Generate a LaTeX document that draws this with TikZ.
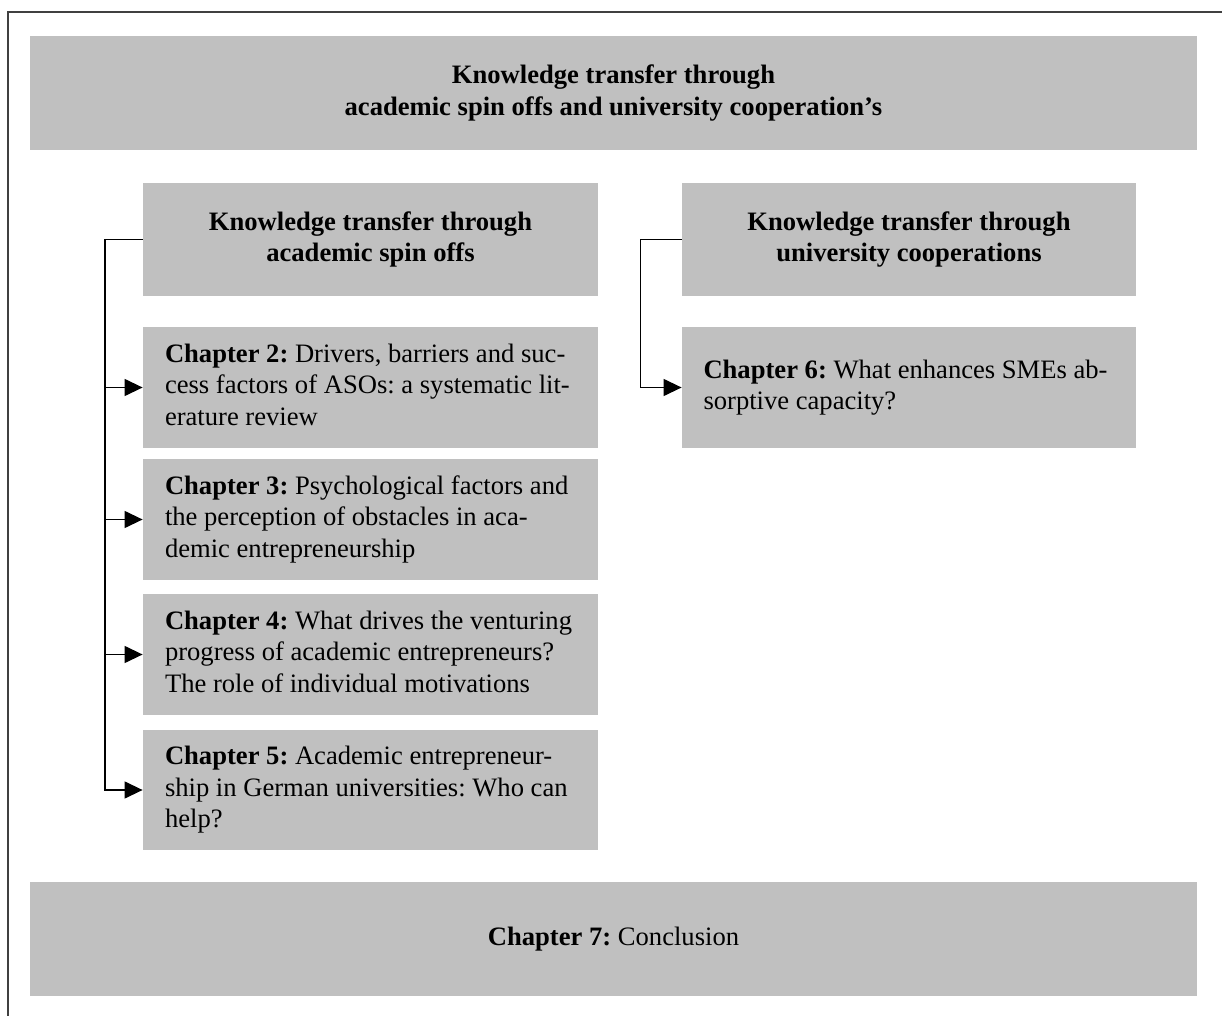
\documentclass[tikz,border=0pt]{standalone}
\usepackage{fontspec}
\setmainfont{Liberation Serif}
\usetikzlibrary{arrows.meta}
\definecolor{boxgray}{RGB}{192,192,192}
\frenchspacing
\newcommand{\chaptxt}[1]{\makebox[205.5pt][l]{\begin{tabular}{@{}l@{}}#1\end{tabular}}}
\begin{document}
\begin{tikzpicture}[x=0.5pt,y=-0.5pt,
  font=\fontsize{13.3}{15.8}\selectfont\frenchspacing,
  box/.style={fill=boxgray, draw=none, inner sep=0pt},
  head/.style={box, align=center, font=\fontsize{13.3}{15.8}\selectfont\bfseries\frenchspacing},
  conn/.style={line width=0.65pt, draw=black},
  arr/.style={conn, -{Triangle[length=9pt,width=8.5pt]}}]
\useasboundingbox (0,0) rectangle (1222,1016);
\draw[line width=1pt, draw=black!75] (1222,12) -- (8,12) -- (8,1016);
\node[head, minimum width=583.5pt, minimum height=57pt] (title) at (613.5,93)
  {Knowledge transfer through\\academic spin offs and university cooperation’s};
\node[head, minimum width=227.5pt, minimum height=56.5pt] (h1) at (370.5,239.5)
  {Knowledge transfer through\\academic spin offs};
\node[head, minimum width=227pt, minimum height=56.5pt] (h2) at (909,239.5)
  {Knowledge transfer through\\university cooperations};
\node[box, minimum width=227.5pt, minimum height=60.5pt] (c2) at (370.5,387.5)
  {\chaptxt{\textbf{Chapter 2:} Drivers, barriers and suc-\\cess factors of ASOs: a systematic lit-\\erature review}};
\node[box, minimum width=227.5pt, minimum height=60.5pt] (c3) at (370.5,519.5)
  {\chaptxt{\textbf{Chapter 3:} Psychological factors and\\the perception of obstacles in aca-\\demic entrepreneurship}};
\node[box, minimum width=227.5pt, minimum height=60.5pt] (c4) at (370.5,654.5)
  {\chaptxt{\textbf{Chapter 4:} What drives the venturing\\progress of academic entrepreneurs?\\The role of individual motivations}};
\node[box, minimum width=227.5pt, minimum height=60pt] (c5) at (370.5,790)
  {\chaptxt{\textbf{Chapter 5:} Academic entrepreneur-\\ship in German universities: Who can\\help?}};
\node[box, minimum width=227pt, minimum height=60.5pt] (c6) at (909,387.5)
  {\chaptxt{\textbf{Chapter 6:} What enhances SMEs ab-\\sorptive capacity?}};
\node[box, minimum width=583.5pt, minimum height=57pt] (c7) at (613.5,939)
  {\textbf{Chapter 7:} Conclusion};
\draw[conn] (h1.west) -- ++(-37.5,0) coordinate (j1);
\draw[arr] (j1) |- (c2.west);
\draw[arr] (j1) |- (c3.west);
\draw[arr] (j1) |- (c4.west);
\draw[arr] (j1) |- (c5.west);
\draw[conn] (h2.west) -- ++(-41,0) coordinate (j2);
\draw[arr] (j2) |- (c6.west);
\end{tikzpicture}
\end{document}
